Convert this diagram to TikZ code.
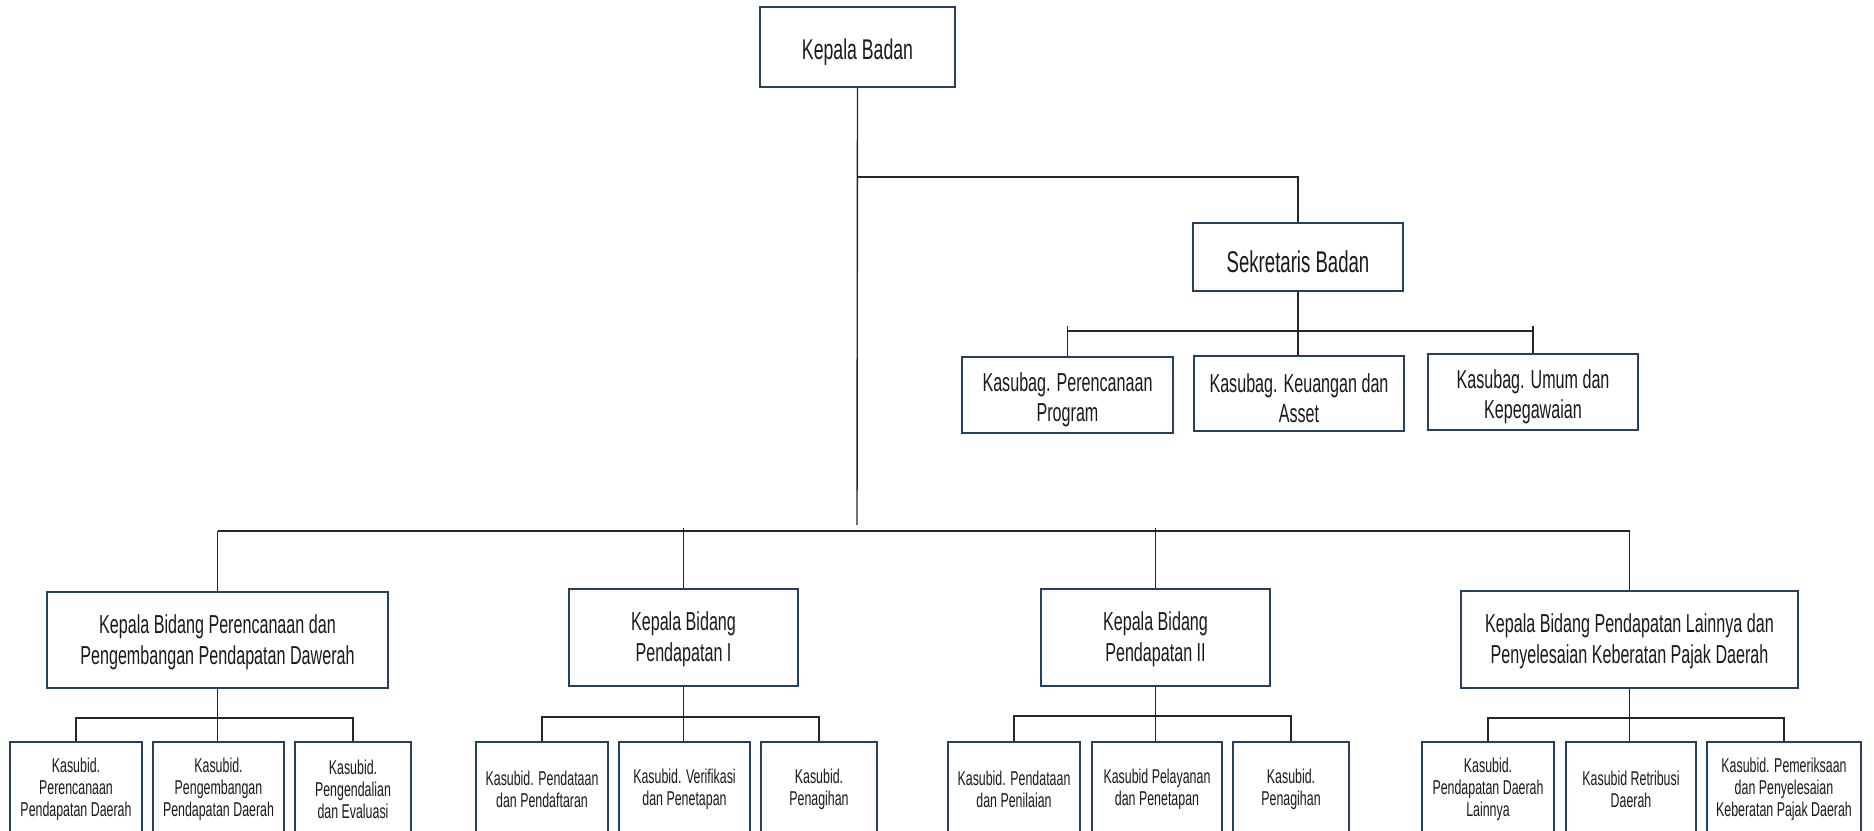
\documentclass[tikz,border=0pt]{standalone}
\usepackage{fontspec}
\setmainfont{Liberation Sans}[FakeStretch=0.62]
\definecolor{boxblue}{HTML}{26405F}
\definecolor{linecol}{HTML}{262626}
\definecolor{txt}{HTML}{1A1A1A}
\begin{document}
\begin{tikzpicture}[x=1pt,y=-1pt,
  box/.style={draw=boxblue, line width=2.2pt, fill=white, align=center, inner sep=0pt, text=txt},
  lowered/.style={execute at begin node={\rule{0pt}{#1}}},
  topfont/.style={font=\fontsize{28.5}{32}\selectfont, lowered=1.05em},
  secfont/.style={font=\fontsize{30}{33}\selectfont, lowered=1.05em},
  kasfont/.style={font=\fontsize{26}{30}\selectfont, lowered=58pt},
  bidfont/.style={font=\fontsize{26}{31}\selectfont, lowered=54pt},
  subfont/.style={font=\fontsize{20}{22}\selectfont},
  subbox/.style={box, subfont, minimum height=94pt},
  conn/.style={draw=linecol, line width=1.4pt}]
\useasboundingbox (0,0) rectangle (1874,830);
\clip (0,0) rectangle (1874,830);

% top level
\node[box, topfont, minimum width=195pt, minimum height=80pt] (kb) at (857.5,47) {Kepala Badan};
\node[box, secfont, minimum width=210pt, minimum height=68pt] (sb) at (1298,257) {Sekretaris Badan};
\node[box, kasfont, minimum width=211pt, minimum height=76pt] (kp) at (1067.5,395) {Kasubag. Perencanaan\\Program};
\node[box, kasfont, minimum width=210pt, minimum height=75pt] (kk) at (1299,393.5) {Kasubag. Keuangan dan\\Asset};
\node[box, kasfont, minimum width=210pt, minimum height=76pt] (ku) at (1533,392) {Kasubag. Umum dan\\Kepegawaian};

% bidang level
\node[box, bidfont, minimum width=341pt, minimum height=96pt] (b1) at (217.5,640) {Kepala Bidang Perencanaan dan\\Pengembangan Pendapatan Dawerah};
\node[box, bidfont, minimum width=229pt, minimum height=97pt] (b2) at (683.5,637.5) {Kepala Bidang\\Pendapatan I};
\node[box, bidfont, minimum width=229pt, minimum height=97pt] (b3) at (1155.5,637.5) {Kepala Bidang\\Pendapatan II};
\node[box, bidfont, minimum width=337pt, minimum height=97pt] (b4) at (1629.5,639.5) {Kepala Bidang Pendapatan Lainnya dan\\Penyelesaian Keberatan Pajak Daerah};

% sub level
\node[subbox, minimum width=132pt] (a1) at (76,789) {Kasubid.\\Perencanaan\\Pendapatan Daerah};
\node[subbox, minimum width=131pt] (a2) at (218.5,789) {Kasubid.\\Pengembangan\\Pendapatan Daerah};
\node[subbox, minimum width=116pt] (a3) at (353,789) {Kasubid.\\Pengendalian\\dan Evaluasi};

\node[subbox, minimum width=132pt] (c1) at (542,789) {Kasubid. Pendataan\\dan Pendaftaran};
\node[subbox, minimum width=131pt] (c2) at (684.5,789) {Kasubid. Verifikasi\\dan Penetapan};
\node[subbox, minimum width=116pt] (c3) at (819,789) {Kasubid.\\Penagihan};

\node[subbox, minimum width=132pt] (d1) at (1014,789) {Kasubid. Pendataan\\dan Penilaian};
\node[subbox, minimum width=130pt] (d2) at (1157,789) {Kasubid Pelayanan\\dan Penetapan};
\node[subbox, minimum width=116pt] (d3) at (1291,789) {Kasubid.\\Penagihan};

\node[subbox, minimum width=132pt] (e1) at (1488,789) {Kasubid.\\Pendapatan Daerah\\Lainnya};
\node[subbox, minimum width=130pt] (e2) at (1631,789) {Kasubid Retribusi\\Daerah};
\node[subbox, minimum width=154pt] (e3) at (1784,789) {Kasubid. Pemeriksaan\\dan Penyelesaian\\Keberatan Pajak Daerah};

% junction coordinates
\coordinate (trunkend) at (857,525);
\coordinate (j1) at (857,177);
\coordinate (bus1) at (1298,331);
\coordinate (bus2) at (857,531);
\coordinate (busa) at (0,718);
\coordinate (busc) at (0,717);
\coordinate (busd) at (0,716);
\coordinate (buse) at (0,718);

% connectors, top part
\draw[conn] (kb.south) -- (trunkend);
\draw[conn] (j1) -| (sb.north);
\draw[conn] (sb.south) -- (sb.south |- kk.north);
\draw[conn] (kp.north |- bus1) -- (ku.north |- bus1);
\draw[conn] ([yshift=5pt]kp.north |- bus1) -- (kp.north);
\draw[conn] ([yshift=5pt]ku.north |- bus1) -- (ku.north);

% connectors, bidang level
\draw[conn] (b1.north |- bus2) -- (b4.north |- bus2);
\draw[conn] (b1.north |- bus2) -- (b1.north);
\draw[conn] ([yshift=3pt]b2.north |- bus2) -- (b2.north);
\draw[conn] ([yshift=3pt]b3.north |- bus2) -- (b3.north);
\draw[conn] (b4.north |- bus2) -- (b4.north);

% connectors, sub level
\draw[conn] (b1.south) -- (b1.south |- a2.north);
\draw[conn] (a1.north) |- (a3.north |- busa) -- (a3.north);
\draw[conn] (b2.south) -- (b2.south |- c2.north);
\draw[conn] (c1.north) |- (c3.north |- busc) -- (c3.north);
\draw[conn] (b3.south) -- (b3.south |- d2.north);
\draw[conn] (d1.north) |- (d3.north |- busd) -- (d3.north);
\draw[conn] (b4.south) -- (b4.south |- e2.north);
\draw[conn] (e1.north) |- (e3.north |- buse) -- (e3.north);
\end{tikzpicture}
\end{document}
